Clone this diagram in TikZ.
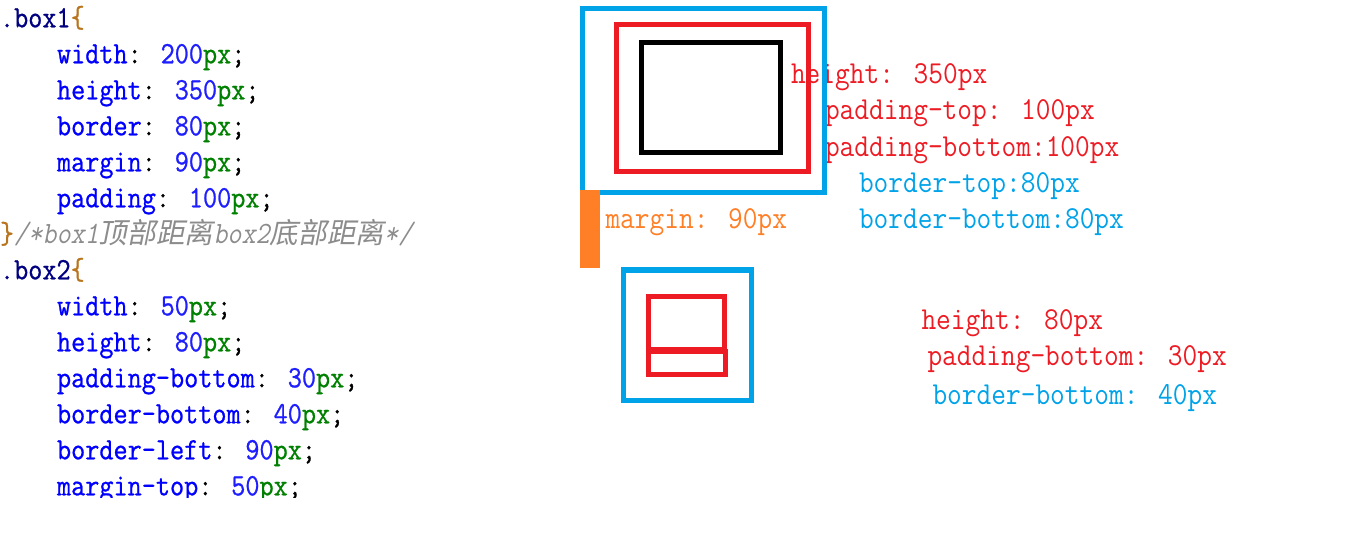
\documentclass[tikz,border=0pt]{standalone}
\usepackage{fontspec}
\newfontfamily\codefont{Latin Modern Mono}[FakeStretch=0.885,FakeBold=0.8]
\newfontfamily\cmtfont{Latin Modern Mono}[FakeStretch=0.885,FakeSlant=0.2]
\newfontfamily\labfont{Latin Modern Mono}[FakeStretch=0.893]
\newfontfamily\cjkfont{Noto Sans CJK SC}[FakeSlant=0.2]
\definecolor{kwblue}{HTML}{0000FF}
\definecolor{numblue}{HTML}{1E1EFF}
\definecolor{pxgreen}{HTML}{008000}
\definecolor{selnavy}{HTML}{000080}
\definecolor{bracebrown}{HTML}{B8751E}
\definecolor{cmtgray}{HTML}{8C8C8C}
\definecolor{pblue}{HTML}{00A2E8}
\definecolor{pred}{HTML}{ED1C24}
\definecolor{porange}{HTML}{FF7F27}
\newcommand\cK[1]{\textcolor{kwblue}{#1}}
\newcommand\cN[1]{\textcolor{numblue}{#1}}
\newcommand\cP{\textcolor{pxgreen}{px}}
\newcommand\cL[3]{\cK{#1}: \cN{#2}\cP#3}
\begin{document}
\begin{tikzpicture}[x=1pt,y=-1pt,
  code/.style={anchor=base west,inner sep=0pt,outer sep=0pt,font=\codefont\fontsize{31}{31}\selectfont},
  lab/.style={anchor=base west,inner sep=0pt,outer sep=0pt,font=\labfont\fontsize{32}{32}\selectfont},
  boxline/.style={line width=5pt}]
\useasboundingbox (0,0) rectangle (1359,537);
\begin{scope}
\clip (0,0) rectangle (600,497);
\node[code] (l1) at (0,27.3) {\textcolor{selnavy}{.box1}\textcolor{bracebrown}{\{}};
\node[code] (l2) at (57,63.3) {\cL{width}{200}{;}};
\node[code] (l3) at (57,99.3) {\cL{height}{350}{;}};
\node[code] (l4) at (57,135.3) {\cL{border}{80}{;}};
\node[code] (l5) at (57,171.3) {\cL{margin}{90}{;}};
\node[code] (l6) at (57,207.3) {\cL{padding}{100}{;}};
\node[code] (l7) at (0,243.3) {\textcolor{bracebrown}{\}}\textcolor{cmtgray}{\cmtfont /*box1\cjkfont\fontsize{28.6}{28.6}\selectfont 顶部距离\cmtfont\fontsize{31}{31}\selectfont box2\cjkfont\fontsize{28.6}{28.6}\selectfont 底部距离\cmtfont\fontsize{31}{31}\selectfont */}};
\node[code] (l8) at (0,279.3) {\textcolor{selnavy}{.box2}\textcolor{bracebrown}{\{}};
\node[code] (l9) at (57,315.3) {\cL{width}{50}{;}};
\node[code] (l10) at (57,351.3) {\cL{height}{80}{;}};
\node[code] (l11) at (57,387.3) {\cL{padding-bottom}{30}{;}};
\node[code] (l12) at (57,423.3) {\cL{border-bottom}{40}{;}};
\node[code] (l13) at (57,459.3) {\cL{border-left}{90}{;}};
\node[code] (l14) at (57,495.3) {\cL{margin-top}{50}{;}};
\end{scope}
% labels
\node[lab,text=pred] (t1) at (791,83.3) {height: 350px};
\node[lab,text=pred] (t2) at (825,120) {padding-top: 100px};
\node[lab,text=pred] (t3) at (825,156.7) {padding-bottom:100px};
\node[lab,text=pblue] (t4) at (859,192.3) {border-top:80px};
\node[lab,text=pblue] (t5) at (859,228.3) {border-bottom:80px};
\node[lab,text=porange] (t6) at (605.5,228.3) {margin: 90px};
\node[lab,text=pred] (t7) at (921.5,329) {height: 80px};
\node[lab,text=pred] (t8) at (927.5,365.5) {padding-bottom: 30px};
\node[lab,text=pblue] (t9) at (932.5,404) {border-bottom: 40px};
% box1
\draw[boxline,pblue] (582.5,8.5) rectangle (824.5,192.5);
\draw[boxline,pred] (616.5,25) rectangle (808.5,171.5);
\draw[boxline,black] (641.5,42.5) rectangle (780,152.5);
\fill[porange] (580,190) rectangle (600,268);
% box2
\draw[boxline,pblue] (623.5,270) rectangle (751.5,400);
\draw[boxline,pred] (648.5,296.5) rectangle (724.2,349.8);
\draw[boxline,pred] (648.5,351.8) rectangle (725.2,374.2);
\end{tikzpicture}
\end{document}
